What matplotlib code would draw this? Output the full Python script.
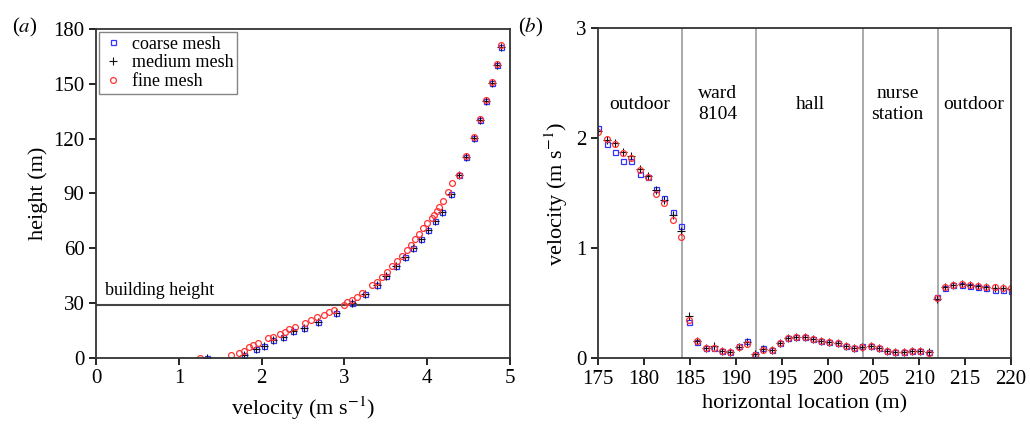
import matplotlib
matplotlib.use("Agg")
import matplotlib.pyplot as plt
import numpy as np

plt.rcParams['font.family'] = ['Liberation Serif', 'DejaVu Serif']
plt.rcParams['mathtext.fontset'] = 'stix'

# ---------------- panel (a) data ----------------
coarse_a_v = [1.34, 1.79, 1.93, 2.03, 2.14, 2.26, 2.38, 2.51, 2.68, 2.90, 3.09, 3.25, 3.39,
              3.50, 3.62, 3.73, 3.83, 3.93, 4.01, 4.10, 4.175, 4.284, 4.38, 4.472, 4.565,
              4.641, 4.71, 4.783, 4.847, 4.891]
coarse_a_h = [0, 1.3, 4.6, 6.6, 9.7, 11.5, 14.6, 16.4, 19.7, 24.7, 29.8, 34.8, 39.9,
              45, 50, 55, 60, 65, 70, 75, 79.7, 89.7, 100, 110.2, 120.3,
              130.3, 140.6, 150.4, 160.5, 170.5]
medium_a_v = coarse_a_v
medium_a_h = coarse_a_h
fine_a_v = [1.255, 1.63, 1.73, 1.78, 1.84, 1.89, 1.96, 2.08, 2.13, 2.22, 2.28, 2.33, 2.40,
            2.52, 2.60, 2.67, 2.75, 2.81, 2.87, 2.99, 3.03, 3.09, 3.15, 3.21, 3.33, 3.39,
            3.45, 3.51, 3.57, 3.63, 3.69, 3.75, 3.80, 3.85, 3.90, 3.95, 4.00, 4.054,
            4.08, 4.115, 4.146, 4.195, 4.255, 4.30, 4.38, 4.472, 4.565, 4.641, 4.71,
            4.783, 4.847, 4.891]
fine_a_h = [0, 1.3, 2.7, 3.8, 5.7, 7.0, 7.9, 10.6, 11.5, 13.0, 14.3, 15.6, 16.7,
            18.9, 20.7, 22.1, 23.4, 24.9, 26.2, 29.1, 30.7, 31.6, 33.4, 35.3, 39.9, 41.7,
            44, 47, 50, 53, 56, 59, 62, 65, 68, 71, 74, 76.6,
            78.4, 80.2, 82.6, 85.8, 90.7, 95.9, 100.3, 110.6, 120.8, 130.9, 141.2,
            151.1, 161.2, 171.3]
building_height = 29

# ---------------- panel (b) data ----------------
loc_b = [175.0, 175.9, 176.8, 177.7, 178.6, 179.5, 180.4, 181.3, 182.2, 183.1,
         184.0, 184.9, 185.8, 186.7, 187.6, 188.5, 189.4, 190.3, 191.2, 192.1,
         193.0, 193.9, 194.8, 195.7, 196.6, 197.5, 198.4, 199.3, 200.2, 201.1,
         202.0, 202.9, 203.8, 204.7, 205.6, 206.5, 207.4, 208.3, 209.2, 210.1,
         211.0, 211.9, 212.8, 213.7, 214.6, 215.5, 216.4, 217.3, 218.2, 219.1, 220.0]
coarse_b = [2.09, 1.945, 1.878, 1.79, 1.79, 1.68, 1.65, 1.54, 1.46, 1.33,
            1.205, 0.33, 0.15, 0.09, 0.09, 0.07, 0.06, 0.11, 0.16, 0.04,
            0.09, 0.075, 0.14, 0.18, 0.19, 0.19, 0.175, 0.16, 0.145, 0.135,
            0.115, 0.09, 0.11, 0.11, 0.09, 0.07, 0.06, 0.06, 0.07, 0.065,
            0.055, 0.56, 0.64, 0.665, 0.665, 0.66, 0.65, 0.64, 0.625, 0.62, 0.615]
medium_b = [2.07, 1.985, 1.955, 1.88, 1.84, 1.72, 1.66, 1.53, 1.44, 1.30,
            1.157, 0.385, 0.16, 0.09, 0.11, 0.07, 0.06, 0.105, 0.15, 0.04,
            0.08, 0.075, 0.14, 0.18, 0.19, 0.19, 0.175, 0.16, 0.145, 0.135,
            0.115, 0.09, 0.105, 0.11, 0.09, 0.07, 0.06, 0.06, 0.07, 0.065,
            0.055, 0.54, 0.65, 0.67, 0.673, 0.666, 0.66, 0.65, 0.64, 0.635, 0.63]
fine_b = [2.055, 1.99, 1.945, 1.87, 1.82, 1.71, 1.65, 1.49, 1.41, 1.26,
          1.10, 0.345, 0.155, 0.09, 0.095, 0.065, 0.055, 0.10, 0.13, 0.03,
          0.075, 0.075, 0.14, 0.18, 0.19, 0.19, 0.175, 0.16, 0.145, 0.135,
          0.115, 0.09, 0.105, 0.11, 0.09, 0.07, 0.06, 0.06, 0.07, 0.065,
          0.045, 0.55, 0.65, 0.67, 0.673, 0.666, 0.66, 0.65, 0.645, 0.64, 0.635]
partitions = [184.1, 192.2, 203.9, 212.0]
room_labels = ['outdoor', 'ward\n8104', 'hall', 'nurse\nstation', 'outdoor']
room_x = [179.5, 188.0, 198.1, 207.6, 215.9]

BLUE = '#3333ff'
RED = '#ff3333'
FS = 15

fig = plt.figure(figsize=(10.3, 4.24), dpi=100)
axa = fig.add_axes([0.0935, 0.1564, 0.4016, 0.7746])
axb = fig.add_axes([0.5809, 0.155, 0.4007, 0.778])

def mk(ax, x, y, kind, label=None):
    if kind == 'c':
        ax.plot(x, y, ls='none', marker='s', ms=3.6, mfc='none', mec=BLUE, mew=0.9, label=label)
    elif kind == 'm':
        ax.plot(x, y, ls='none', marker='+', ms=5.5, color='#111111', mew=0.8, label=label)
    else:
        ax.plot(x, y, ls='none', marker='o', ms=4.2, mfc='none', mec=RED, mew=0.9, label=label)

# panel a
axa.axhline(building_height, color='#444444', lw=1.5, zorder=1)
axa.text(0.1, building_height + 3, 'building height', fontsize=13, ha='left', va='bottom')
mk(axa, coarse_a_v, coarse_a_h, 'c', 'coarse mesh')
mk(axa, medium_a_v, medium_a_h, 'm', 'medium mesh')
mk(axa, fine_a_v, fine_a_h, 'f', 'fine mesh')
axa.set_xlim(0, 5)
axa.set_ylim(0, 180)
axa.set_xticks(range(0, 6))
axa.set_yticks(range(0, 181, 30))
axa.set_xlabel('velocity (m s$^{-1}$)', fontsize=16)
axa.set_ylabel('height (m)', fontsize=16)
leg = axa.legend(loc='upper left', fontsize=13, frameon=True, fancybox=False,
                 edgecolor='#666666', handletextpad=0.4, borderpad=0.2,
                 labelspacing=0.1, handlelength=1.2, borderaxespad=0.15)
leg.get_frame().set_linewidth(1.0)
fig.text(0.012, 0.935, '($a$)', fontsize=FS, ha='left', va='center')

# panel b
for p in partitions:
    axb.axvline(p, color='#aaaaaa', lw=1.4, zorder=0)
mk(axb, loc_b, coarse_b, 'c')
mk(axb, loc_b, medium_b, 'm')
mk(axb, loc_b, fine_b, 'f')
for lx, lt in zip(room_x, room_labels):
    axb.text(lx, 2.31, lt, fontsize=14, ha='center', va='center', linespacing=1.3)
axb.set_xlim(175, 220)
axb.set_ylim(0, 3)
axb.set_xticks(range(175, 221, 5))
axb.set_yticks([0, 1, 2, 3])
axb.set_xlabel('horizontal location (m)', fontsize=16)
axb.set_ylabel('velocity (m s$^{-1}$)', fontsize=16)
fig.text(0.503, 0.935, '($b$)', fontsize=FS, ha='left', va='center')

for ax in (axa, axb):
    ax.tick_params(direction='out', labelsize=FS, length=5, width=1.2)
    for s in ax.spines.values():
        s.set_linewidth(1.3)
        s.set_color('#333333')

fig.savefig('out.png', dpi=100)
